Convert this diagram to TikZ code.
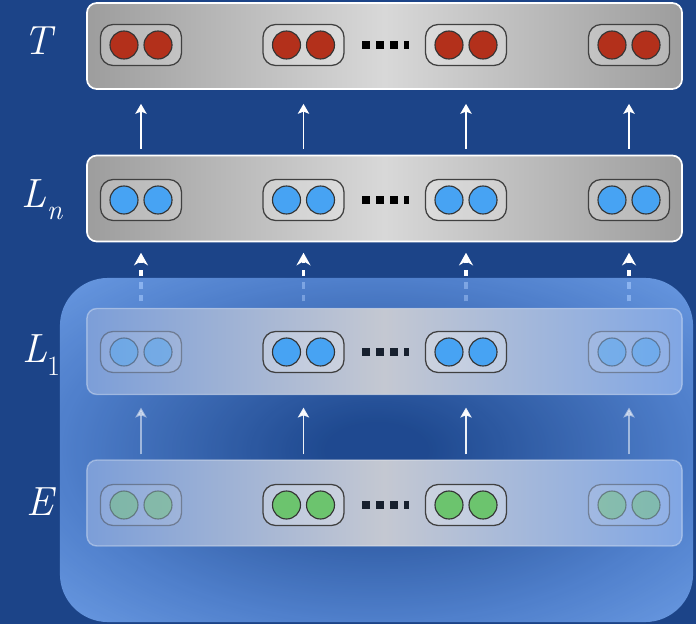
\documentclass[tikz,border=0pt]{standalone}
\usepackage{tikz}
\usetikzlibrary{arrows.meta, positioning, backgrounds, calc}
\usepackage{xcolor}
\definecolor{bgblue}{HTML}{1C4488}
\definecolor{gedge}{HTML}{9D9D9D}
\definecolor{gmid}{HTML}{D8D8D8}
\definecolor{fleft}{HTML}{7C9ED8}
\definecolor{fright}{HTML}{80A6E4}
\definecolor{fmid}{HTML}{C4C8D2}
\definecolor{cred}{HTML}{B3301B}
\definecolor{cblue}{HTML}{47A3F3}
\definecolor{cgreen}{HTML}{6CC46E}
\definecolor{pdark}{HTML}{204B92}
\definecolor{pmid}{HTML}{5D8FDD}
\definecolor{plight}{HTML}{7EB0F9}
\definecolor{dotnavy}{HTML}{17202E}
\pgfdeclareradialshading{panelglow}{\pgfpoint{0bp}{0bp}}{color(0bp)=(pdark); color(4bp)=(pdark); color(25bp)=(pmid); color(36bp)=(plight); color(50bp)=(plight)}
\newcommand{\sublbl}[1]{\raisebox{-0.3em}{\fontsize{20}{20}\selectfont #1}}
\tikzstyle{layerbox} = [rectangle, rounded corners=7pt, minimum width=14.875cm, minimum height=2.15cm, draw=white, line width=1.2pt, left color=gedge, right color=gedge, middle color=gmid]
\tikzstyle{glassbox} = [rectangle, rounded corners=7pt, minimum width=14.875cm, minimum height=2.15cm, draw=white, draw opacity=0.35, line width=1pt, left color=fleft, right color=fright, middle color=fmid]
\tikzstyle{panelbox} = [rectangle, rounded corners=1.2cm, minimum width=15.825cm, minimum height=8.6cm, shading=panelglow, fill opacity=0.8]
\tikzstyle{pairbox} = [rectangle, rounded corners=9pt, minimum width=2.025cm, minimum height=1.025cm, draw=black!75, line width=0.9pt]
\tikzstyle{cellbox} = [circle, minimum size=0.7cm, inner sep=0pt, line width=0.8pt, draw=black!80]
\tikzstyle{dotrow} = [line width=5.7pt, dash pattern=on 5.7pt off 4.2pt]
\tikzstyle{uparrow} = [white, line width=1.4pt, -{Stealth[length=7pt, width=8pt, inset=1.5pt]}]
\tikzstyle{dasharrow} = [white, line width=2.2pt, dash pattern=on 4.5pt off 4.5pt, -{Stealth[length=9pt, width=10pt, inset=3pt]}]
\tikzstyle{lbl} = [text=white, inner sep=0pt, font=\fontsize{29}{32}\selectfont\itshape]

\begin{document}
\begin{tikzpicture}[x=0.025cm, y=-0.025cm]
  \useasboundingbox (0,0) rectangle (696,624);
  \begin{scope}[on background layer]
    \fill[bgblue] (0,0) rectangle (696,624);
  \end{scope}

  % Layers
  \node[layerbox] (tlay) at (384.5,46) {};
  \node[layerbox] (nlay) at (384.5,198.5) {};
  \node[panelbox] (panel) at (376.5,450) {};
  \node[glassbox] (olay) at (384.5,351.5) {};
  \node[glassbox] (elay) at (384.5,503) {};

  % Labels
  \node[lbl] (labt) at (38,41) {T};
  \node[lbl] (labn) at (42,200) {L\sublbl{n}};
  \node[lbl] (labo) at (41,355) {L\sublbl{\upshape 1}};
  \node[lbl] (labe) at (40,502) {E};

  % Token pairs
  \foreach \r/\y/\col/\fd/\dc in {t/45/cred/1/black, n/200/cblue/1/black, o/352/cblue/0.45/dotnavy, e/505/cgreen/0.45/dotnavy}{
    \foreach \i/\x in {1/141, 2/303.5, 3/466, 4/629}{
      \pgfmathsetmacro{\op}{(\i==2 || \i==3) ? 1 : \fd}
      \pgfmathsetmacro{\fop}{0.25*\op}
      \node[pairbox, draw opacity=\op, fill=white, fill opacity=\fop] (\r\i) at (\x,\y) {};
      \node[cellbox, fill=\col, opacity=\op] (\r\i-l) at ([xshift=-0.425cm]\r\i.center) {};
      \node[cellbox, fill=\col, opacity=\op] (\r\i-r) at ([xshift=0.425cm]\r\i.center) {};
    }
    \draw[dotrow, \dc] ([xshift=0.44cm]\r2.east) -- ([xshift=-0.39cm]\r3.west);
  }

  % Arrows
  \foreach \i in {1,...,4}{
    \pgfmathsetmacro{\op}{(\i==2 || \i==3) ? 0.92 : 0.5}
    \draw[uparrow] ([yshift=0.14cm]n\i |- nlay.north) -- ([yshift=-0.35cm]t\i |- tlay.south);
    \draw[uparrow, opacity=\op] ([yshift=0.125cm]e\i |- elay.north) -- ([yshift=-0.31cm]o\i |- olay.south);
    \begin{scope}[on background layer]
      \draw[dasharrow] ([yshift=0.16cm]o\i |- olay.north) -- ([yshift=-0.26cm]n\i |- nlay.south);
    \end{scope}
  }
\end{tikzpicture}
\end{document}
